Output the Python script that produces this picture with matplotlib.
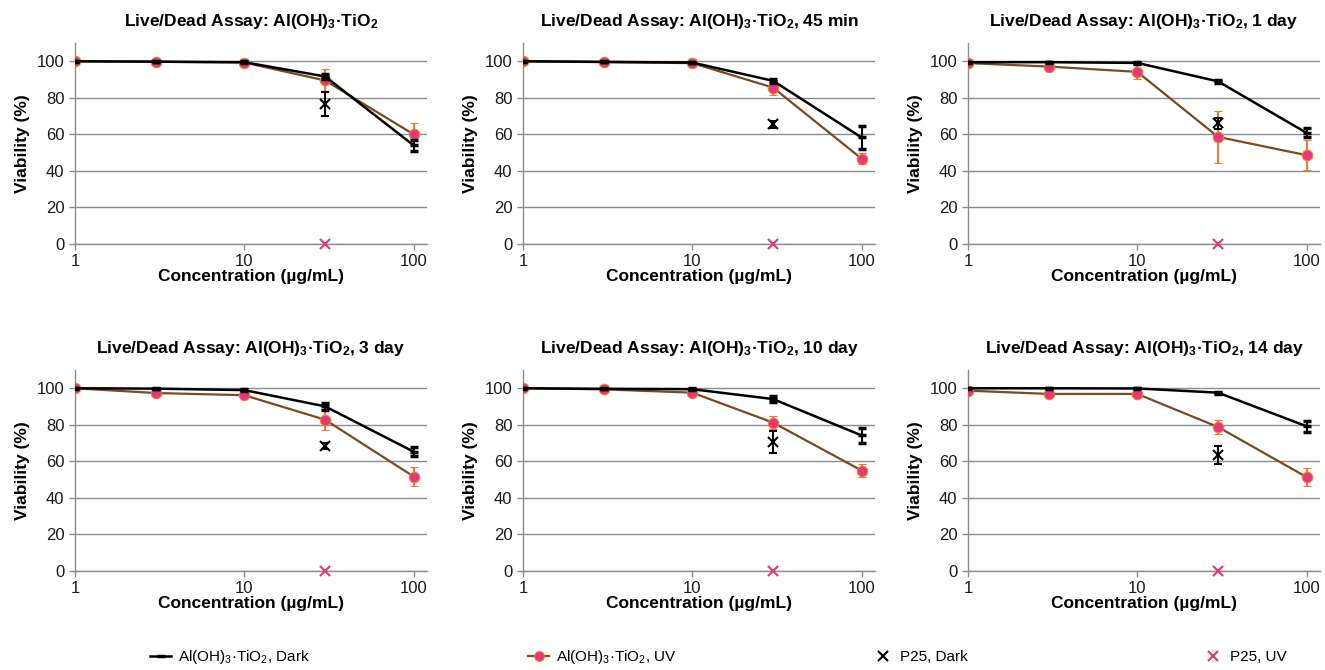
import matplotlib
matplotlib.use("Agg")
import matplotlib.pyplot as plt
from matplotlib.lines import Line2D
import numpy as np

plt.rcParams['font.family'] = ['Liberation Sans', 'DejaVu Sans']
plt.rcParams['mathtext.default'] = 'regular'

conc = [1, 3, 10, 30, 100]
p25_conc = [30]

titles = [
    r"Live/Dead Assay: Al(OH)$_3$·TiO$_2$",
    r"Live/Dead Assay: Al(OH)$_3$·TiO$_2$, 45 min",
    r"Live/Dead Assay: Al(OH)$_3$·TiO$_2$, 1 day",
    r"Live/Dead Assay: Al(OH)$_3$·TiO$_2$, 3 day",
    r"Live/Dead Assay: Al(OH)$_3$·TiO$_2$, 10 day",
    r"Live/Dead Assay: Al(OH)$_3$·TiO$_2$, 14 day",
]

dark_0 = [100, 99.8, 99.5, 91.7, 54];   dark_err_0 = [0.3, 0.3, 0.4, 1.5, 3]
uv_0 = [100, 99.7, 99.3, 89.5, 60];     uv_err_0 = [0.3, 0.3, 0.4, 6, 6]
p25d_0 = [76.5];                        p25d_err_0 = [6.5]

dark_1 = [100, 99.7, 99.3, 89.3, 58.3]; dark_err_1 = [0.3, 0.3, 0.4, 1, 6.5]
uv_1 = [100, 99.5, 99, 85.6, 46.7];     uv_err_1 = [0.3, 0.3, 0.4, 4, 3]
p25d_1 = [65.5];                        p25d_err_1 = [2]

dark_2 = [99.5, 99.5, 99.1, 89, 60.8];  dark_err_2 = [0.3, 0.3, 0.4, 1, 2.5]
uv_2 = [99, 97.1, 94.2, 58.6, 48.6];    uv_err_2 = [0.5, 0.8, 3.8, 14, 8.3]
p25d_2 = [66.2];                        p25d_err_2 = [3]

dark_3 = [100, 99.8, 99, 90.1, 65.3];   dark_err_3 = [0.3, 0.3, 0.4, 2, 2.5]
uv_3 = [100, 97.4, 96.2, 82.8, 51.7];   uv_err_3 = [0.3, 0.8, 1, 5.7, 5.3]
p25d_3 = [68.4];                        p25d_err_3 = [1.5]

dark_4 = [100, 99.7, 99.5, 94.1, 74.2]; dark_err_4 = [0.3, 0.3, 0.4, 1.5, 4]
uv_4 = [100, 99.4, 97.6, 81.2, 55];     uv_err_4 = [0.3, 0.4, 0.6, 3.6, 3.8]
p25d_4 = [70.7];                        p25d_err_4 = [6]

dark_5 = [100, 100, 99.9, 97.6, 79.2];  dark_err_5 = [0.3, 0.3, 0.3, 0.5, 3]
uv_5 = [98.7, 96.9, 96.9, 78.8, 51.4];  uv_err_5 = [0.5, 0.5, 0.5, 3.8, 4.9]
p25d_5 = [63.6];                        p25d_err_5 = [5]

p25uv = [0]

darks = [dark_0, dark_1, dark_2, dark_3, dark_4, dark_5]
dark_errs = [dark_err_0, dark_err_1, dark_err_2, dark_err_3, dark_err_4, dark_err_5]
uvs = [uv_0, uv_1, uv_2, uv_3, uv_4, uv_5]
uv_errs = [uv_err_0, uv_err_1, uv_err_2, uv_err_3, uv_err_4, uv_err_5]
p25ds = [p25d_0, p25d_1, p25d_2, p25d_3, p25d_4, p25d_5]
p25d_errs = [p25d_err_0, p25d_err_1, p25d_err_2, p25d_err_3, p25d_err_4, p25d_err_5]

legend_labels = [r"Al(OH)$_3$·TiO$_2$, Dark", r"Al(OH)$_3$·TiO$_2$, UV", "P25, Dark", "P25, UV"]

BROWN = '#7a4a22'
PINK = '#e8367a'
ORANGE = '#f07a30'
GRID = '#8c8c8c'

fig = plt.figure(figsize=(13.25, 6.7), dpi=100)

lefts = [75, 523, 968]
width_px = 352
tops = [43, 370]
height_px = 201

for i in range(6):
    r, c = divmod(i, 3)
    l = lefts[c] / 1325
    b = 1 - (tops[r] + height_px) / 670
    ax = fig.add_axes([l, b, width_px / 1325, height_px / 670])
    ax.set_xscale('log')
    ax.set_xlim(1, 120)
    ax.set_ylim(0, 110)
    ax.set_yticks(range(0, 101, 20))
    ax.yaxis.grid(True, color=GRID, lw=1)
    ax.set_axisbelow(True)
    ax.set_xticks([1, 10, 100])
    ax.set_xticklabels(['1', '10', '100'])
    ax.xaxis.set_minor_locator(matplotlib.ticker.NullLocator())
    for s in ['top', 'right']:
        ax.spines[s].set_visible(False)
    for s in ['left', 'bottom']:
        ax.spines[s].set_color(GRID)
        ax.spines[s].set_linewidth(1)
    ax.tick_params(axis='both', colors=GRID, labelcolor='#1a1a1a', labelsize=12, length=4, width=1)

    ax.errorbar(conc, uvs[i], yerr=uv_errs[i], color=BROWN, lw=1.6, ecolor=ORANGE,
                elinewidth=1.5, capsize=3, capthick=1.5, marker='o', ms=7.5,
                mfc=PINK, mec=ORANGE, mew=0.8, zorder=3)
    ax.errorbar(conc, darks[i], yerr=dark_errs[i], color='black', lw=1.8, ecolor='black',
                elinewidth=1.5, capsize=3, capthick=1.5, marker='_', ms=6, mew=2.5, zorder=4)
    ax.errorbar(p25_conc, p25ds[i], yerr=p25d_errs[i], fmt='x', color='black', ms=7.5, mew=1.5,
                elinewidth=1.5, capsize=3, capthick=1.5, zorder=5)
    ax.plot(p25_conc, p25uv, 'x', color=PINK, ms=7.5, mew=1.5, zorder=5, clip_on=False)

    ax.set_title(titles[i], fontsize=12.5, fontweight='bold', pad=12)
    ax.set_xlabel('Concentration (µg/mL)', fontsize=12.5, fontweight='bold', labelpad=0)
    ax.set_ylabel('Viability (%)', fontsize=12.5, fontweight='bold', labelpad=5)

handles = [
    Line2D([], [], color='black', lw=1.8, marker='_', ms=6, mew=2.5),
    Line2D([], [], color=BROWN, lw=1.6, marker='o', ms=7, mfc=PINK, mec=ORANGE, mew=0.8),
    Line2D([], [], color='black', ls='none', marker='x', ms=7, mew=1.5),
    Line2D([], [], color=PINK, ls='none', marker='x', ms=7, mew=1.5),
]
xs = [150, 528, 872, 1202]
for h, lab, x in zip(handles, legend_labels, xs):
    fig.legend(handles=[h], labels=[lab], loc='center left',
               bbox_to_anchor=(x / 1325, 1 - 657 / 670), frameon=False,
               fontsize=11, handlelength=1.4, handletextpad=0.4, borderpad=0, borderaxespad=0)

fig.savefig('out.png', dpi=100)
